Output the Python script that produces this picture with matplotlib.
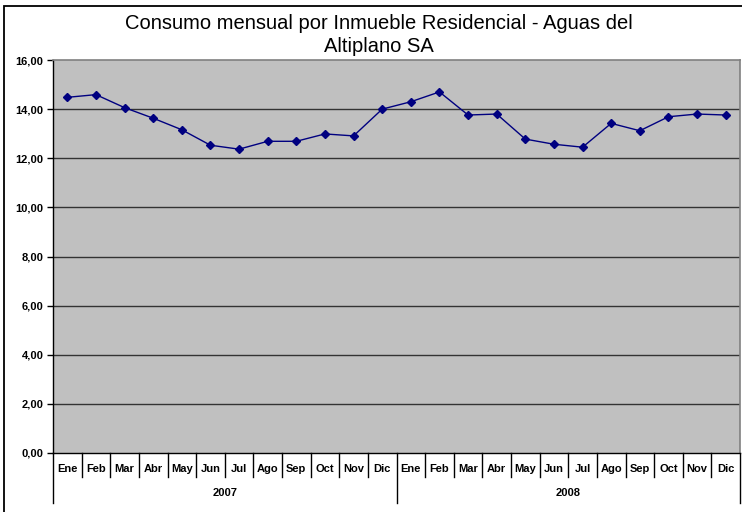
import matplotlib
matplotlib.use("Agg")
import matplotlib.pyplot as plt
from matplotlib.patches import Rectangle
import matplotlib.transforms as mtransforms

plt.rcParams['font.family'] = ['Liberation Sans', 'DejaVu Sans']

title = "Consumo mensual por Inmueble Residencial - Aguas del\nAltiplano SA"
months = ["Ene", "Feb", "Mar", "Abr", "May", "Jun", "Jul", "Ago", "Sep", "Oct", "Nov", "Dic"]
years = ["2007", "2008"]
consumo_2007 = [14.48, 14.59, 14.06, 13.63, 13.16, 12.53, 12.37, 12.69, 12.69, 12.99, 12.91, 14.00]
consumo_2008 = [14.30, 14.70, 13.76, 13.80, 12.78, 12.57, 12.45, 13.42, 13.12, 13.69, 13.80, 13.76]
y_ticks = [0, 2, 4, 6, 8, 10, 12, 14, 16]
y_tick_labels = ["0,00", "2,00", "4,00", "6,00", "8,00", "10,00", "12,00", "14,00", "16,00"]

values = consumo_2007 + consumo_2008
n = len(values)
xs = list(range(n))

fig = plt.figure(figsize=(7.42, 5.12), dpi=100)
fig.patch.set_facecolor("white")
ax = fig.add_axes([53/742, 1-453/512, (740-53)/742, (453-60)/512])
ax.set_facecolor("#c0c0c0")

for yv in y_ticks[1:-1]:
    ax.axhline(yv, color="#333333", lw=1.0, zorder=1)

ax.plot(xs, values, color="#000080", lw=1.0, marker="D", markersize=4.5,
        markerfacecolor="#000080", markeredgecolor="#000080", zorder=3)

ax.set_xlim(-0.5, n - 0.5)
ax.set_ylim(0, 16)
ax.set_yticks(y_ticks)
ax.set_yticklabels(y_tick_labels, fontsize=8, fontweight="bold")
ax.tick_params(axis="y", direction="out", length=4, width=1, color="black", pad=3)
ax.set_xticks([])

for side in ["top", "right"]:
    ax.spines[side].set_color("#808080")
    ax.spines[side].set_linewidth(1.2)
ax.spines["left"].set_color("black")
ax.spines["bottom"].set_color("black")
ax.spines["left"].set_linewidth(1.0)
ax.spines["bottom"].set_linewidth(1.0)

trans = mtransforms.blended_transform_factory(ax.transData, ax.transAxes)
month_h = (477 - 453) / (453 - 60)
year_h = (503 - 453) / (453 - 60)
month_y = -(469 - 453) / (453 - 60)
year_y = -(493 - 453) / (453 - 60)

for i in range(n):
    ax.text(xs[i], month_y, months[i % 12], transform=trans, ha="center", va="center",
            fontsize=8, fontweight="bold")
for b in range(n + 1):
    h = year_h if b % 12 == 0 else month_h
    ax.plot([b - 0.5, b - 0.5], [0, -h], transform=trans, color="black", lw=1.0, clip_on=False)
for k, yr in enumerate(years):
    ax.text(k * 12 + 5.5, year_y, yr, transform=trans, ha="center", va="center",
            fontsize=8, fontweight="bold")

fig.text(379/742, 1 - 35/512, title, ha="center", va="center", fontsize=14.5,
         linespacing=1.25)

fig.patches.append(Rectangle((3.5/742, -0.1), 1.2, 1 - 5.5/512 + 0.1, transform=fig.transFigure,
                             fill=False, edgecolor="black", lw=1.3))

fig.savefig("out.png", dpi=100)
